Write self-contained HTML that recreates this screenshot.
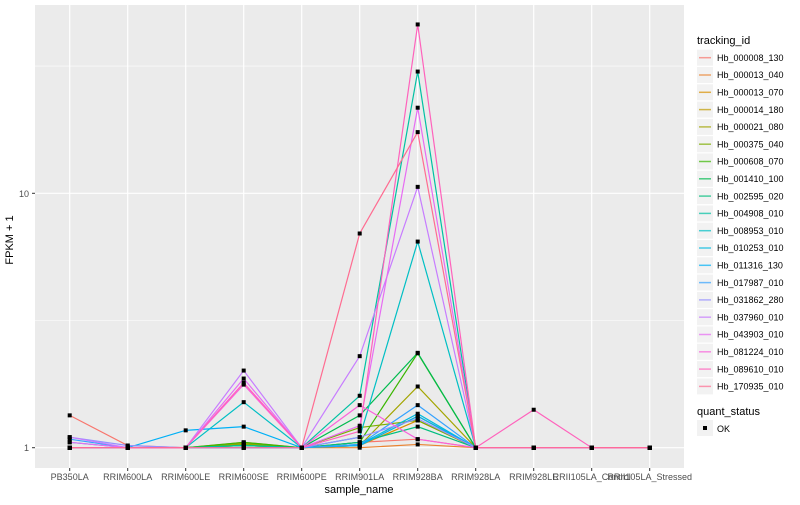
<!DOCTYPE html>
<html><head><meta charset="utf-8"><style>
body{margin:0;background:#fff;}
svg{font-family:"Liberation Sans",sans-serif;}
</style></head><body>
<svg id="chart" width="800" height="500">
<rect x="35" y="5" width="649" height="463" fill="#ebebeb"/>
<g id="grid"></g>
<g id="lines"></g>
<g id="points"></g>
<g id="axes"></g>
<text x="13" y="240" font-size="11" text-anchor="middle" transform="rotate(-90 13 240)">FPKM + 1</text>
<text x="359" y="493" font-size="11" text-anchor="middle">sample_name</text>
<g id="legend"></g>
</svg>
<script>
const categories=["PB350LA","RRIM600LA","RRIM600LE","RRIM600SE","RRIM600PE","RRIM901LA","RRIM928BA","RRIM928LA","RRIM928LE","RRII105LA_Control","RRII105LA_Stressed"];
const seriesNames=["Hb_000008_130","Hb_000013_040","Hb_000013_070","Hb_000014_180","Hb_000021_080","Hb_000375_040","Hb_000608_070","Hb_001410_100","Hb_002595_020","Hb_004908_010","Hb_008953_010","Hb_010253_010","Hb_011316_130","Hb_017987_010","Hb_031862_280","Hb_037960_010","Hb_043903_010","Hb_081224_010","Hb_089610_010","Hb_170935_010"];
const seriesColors=["#F8766D","#EA8331","#D89000","#C09B00","#A3A500","#7CAE00","#39B600","#00BB4E","#00BF7D","#00C1A3","#00BFC4","#00BAE0","#00B0F6","#35A2FF","#9590FF","#C77CFF","#E76BF3","#FA62DB","#FF62BC","#FF6C91"];
const s0=[1.34,1.02,1,1.05,1,1.05,1.08,1,1,1,1];
const s1=[1,1,1,1.02,1,1,1.03,1,1,1,1];
const s2=[1,1,1,1,1,1.02,1.28,1,1,1,1];
const s3=[1,1,1,1.02,1,1.02,1.33,1,1,1,1];
const s4=[1,1,1,1.04,1,1.02,1.74,1,1,1,1];
const s5=[1,1,1,1.03,1,1.2,1.28,1,1,1,1];
const s6=[1,1,1,1.05,1,1.05,2.35,1,1,1,1];
const s7=[1,1,1,1.02,1,1.34,2.36,1,1,1,1];
const s8=[1,1,1,1,1,1.05,1.21,1,1,1,1];
const s9=[1,1,1,1.02,1,1.6,30.1,1,1,1,1];
const s10=[1.05,1,1,1.51,1,1.1,6.46,1,1,1,1];
const s11=[1,1,1,1,1,1.03,1.36,1,1,1,1];
const s12=[1,1,1.17,1.21,1,1.02,1.33,1,1,1,1];
const s13=[1.08,1,1,1,1,1.03,1.47,1,1,1,1];
const s14=[1.1,1.02,1,1,1,1.1,1.3,1,1,1,1];
const s15=[1.1,1,1,2.01,1,2.29,10.6,1,1,1,1];
const s16=[1.05,1,1,1.87,1,1.22,21.7,1,1,1,1];
const s17=[1,1,1,1.77,1,1.47,1.08,1,1,1,1];
const s18=[1,1,1,1.8,1,1.16,46.1,1,1.41,1,1];
const s19=[1,1,1,1,1,6.95,17.4,1,1,1,1];
const seriesValues=[s0,s1,s2,s3,s4,s5,s6,s7,s8,s9,s10,s11,s12,s13,s14,s15,s16,s17,s18,s19];
const yTicks=[1,10];
const yMinor=[Math.sqrt(10),Math.sqrt(1000)];
const NS="http://www.w3.org/2000/svg";
function xs(i){return 69.7+i*58;}
function ys(v){return 447.7-Math.log10(v)*254.4;}
function mk(tag,attrs,parent){const e=document.createElementNS(NS,tag);for(const k in attrs)e.setAttribute(k,attrs[k]);parent.appendChild(e);return e;}
const grid=document.getElementById('grid'),axes=document.getElementById('axes');
yMinor.forEach(v=>{const l=mk('line',{x1:35,x2:684,y1:ys(v),y2:ys(v),stroke:'#fff','stroke-width':0.6},grid);

});
yTicks.forEach(v=>{const l=mk('line',{x1:35,x2:684,y1:ys(v),y2:ys(v),stroke:'#fff','stroke-width':1.2},grid);


const t=mk('text',{x:29,y:ys(v)+3.5,'font-size':9,'text-anchor':'end',fill:'#4d4d4d'},axes);t.textContent=String(v);


mk('line',{x1:32,x2:35,y1:ys(v),y2:ys(v),stroke:'#333'},axes);});
categories.forEach((c,i)=>{const l=mk('line',{x1:xs(i),x2:xs(i),y1:5,y2:468,stroke:'#fff','stroke-width':1.2},grid);


mk('line',{x1:xs(i),x2:xs(i),y1:468,y2:471,stroke:'#333'},axes);
const t=mk('text',{x:xs(i),y:480,'font-size':9,'text-anchor':'middle',fill:'#4d4d4d'},axes);t.textContent=c;

});
const lines=document.getElementById('lines'),pts=document.getElementById('points');
seriesValues.forEach((s,k)=>{const p=mk('polyline',{points:s.map((v,i)=>xs(i)+','+ys(v)).join(' '),fill:'none',stroke:seriesColors[k],'stroke-width':1.2},lines);


s.forEach((v,i)=>{const r=mk('rect',{x:xs(i)-2,y:ys(v)-2,width:4,height:4,fill:'#000'},pts);

});});
const lg=document.getElementById('legend');
let t=mk('text',{x:697,y:44,'font-size':11},lg);t.textContent='tracking_id';


seriesNames.forEach((n,k)=>{const cy=57.7+k*17.3;
const g=mk('g',{},lg);


mk('rect',{x:697,y:cy-8,width:16,height:16,fill:'#f2f2f2'},g);
mk('line',{x1:699,x2:711,y1:cy,y2:cy,stroke:seriesColors[k],'stroke-width':1.5,'stroke-opacity':0.7},g);
const tt=mk('text',{x:717,y:cy+3.2,'font-size':9},g);tt.textContent=n;});
t=mk('text',{x:697,y:415,'font-size':11},lg);t.textContent='quant_status';


const g2=mk('g',{},lg);


mk('rect',{x:697,y:420,width:16,height:16,fill:'#f2f2f2'},g2);
mk('rect',{x:703,y:426,width:4,height:4,fill:'#000'},g2);
const ok=mk('text',{x:717,y:432,'font-size':9},g2);ok.textContent='OK';
</script>
</body></html>
